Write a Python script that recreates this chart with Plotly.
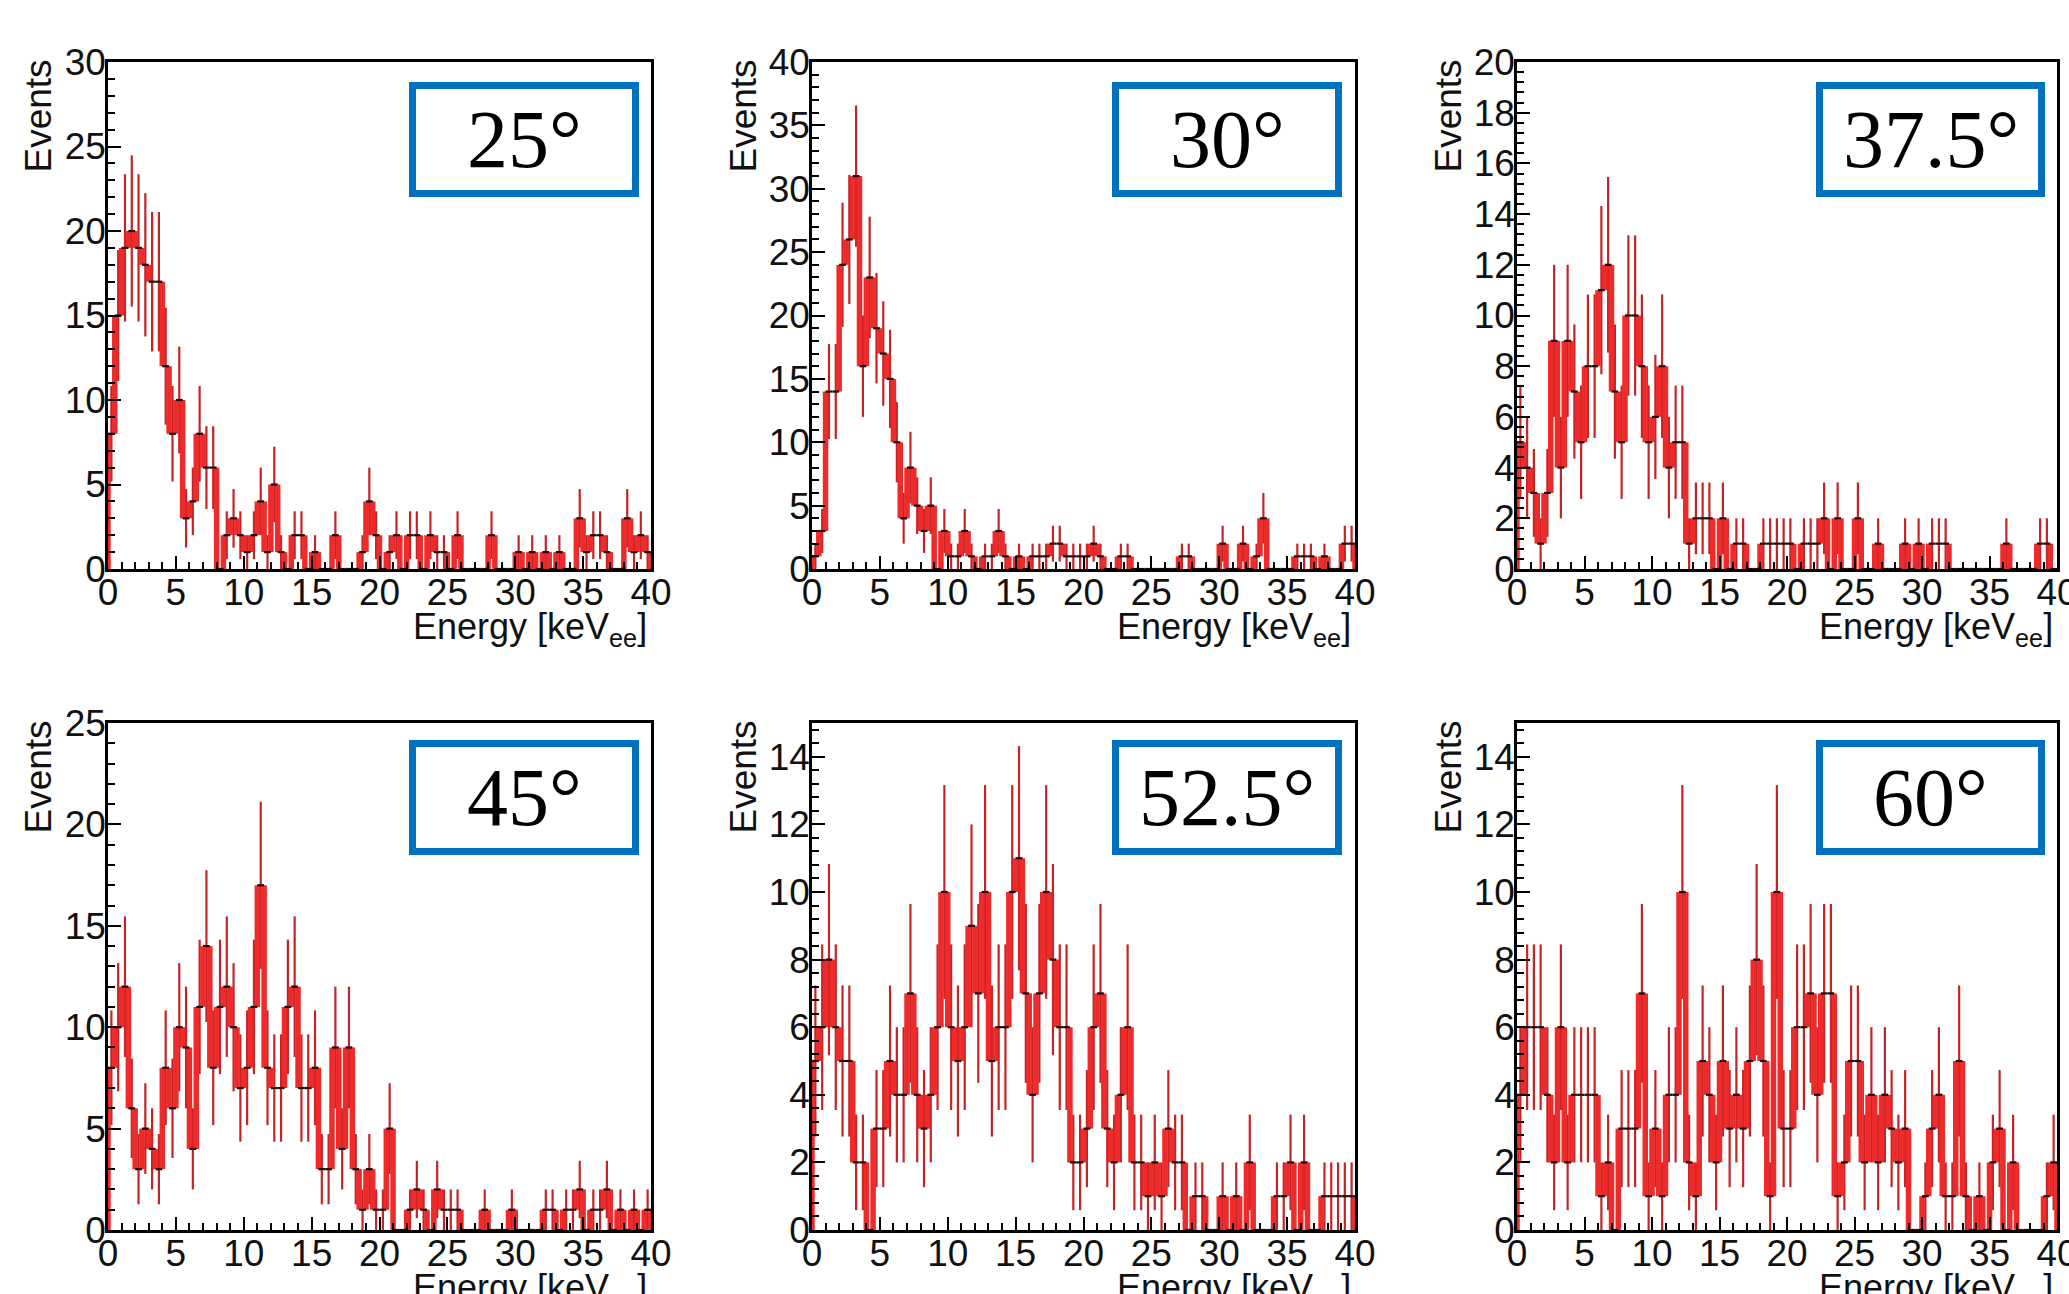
import numpy as np
import plotly.graph_objects as go

# ---------------- data (counts per 0.5 keV bin, 0-40 keV) ----------------
BIN_WIDTH = 0.5
ANGLE_LABELS = ["25°", "30°", "37.5°", "45°", "52.5°", "60°"]

counts_25 = [8, 15, 19, 20, 19, 18, 17, 17, 12, 8,
             10, 3, 4, 8, 6, 6, 0, 2, 3, 2,
             1, 2, 4, 1, 5, 1, 0, 2, 2, 0,
             1, 0, 0, 2, 0, 0, 0, 1, 4, 2,
             0, 1, 2, 0, 2, 2, 0, 2, 1, 1,
             0, 2, 0, 0, 0, 0, 2, 0, 0, 0,
             1, 0, 1, 0, 1, 0, 1, 0, 0, 3,
             1, 2, 2, 1, 0, 0, 3, 1, 2, 1]

counts_30 = [1, 3, 14, 14, 24, 26, 31, 16, 23, 19,
             17, 15, 10, 4, 8, 5, 3, 5, 0, 3,
             1, 1, 3, 1, 0, 1, 1, 3, 1, 0,
             1, 0, 1, 1, 1, 2, 2, 1, 1, 1,
             1, 2, 1, 0, 0, 1, 1, 0, 0, 0,
             0, 0, 0, 0, 1, 1, 0, 0, 0, 0,
             2, 0, 0, 2, 0, 1, 4, 0, 0, 0,
             0, 1, 1, 1, 0, 1, 0, 0, 2, 2]

counts_375 = [5, 4, 3, 1, 3, 9, 4, 9, 7, 5,
              8, 8, 11, 12, 7, 5, 10, 10, 8, 5,
              6, 8, 4, 5, 5, 1, 2, 2, 2, 0,
              2, 0, 1, 1, 0, 0, 1, 1, 1, 1,
              1, 0, 1, 1, 1, 2, 0, 2, 0, 0,
              2, 0, 0, 1, 0, 0, 0, 1, 0, 1,
              0, 1, 1, 1, 0, 0, 0, 0, 0, 0,
              0, 0, 1, 0, 0, 0, 0, 1, 1, 0]

counts_45 = [8, 10, 12, 6, 3, 5, 4, 3, 8, 6,
             10, 9, 4, 11, 14, 8, 11, 12, 10, 7,
             8, 11, 17, 8, 7, 7, 11, 12, 7, 7,
             8, 3, 3, 9, 4, 9, 3, 1, 3, 1,
             1, 5, 0, 0, 1, 2, 1, 0, 2, 1,
             1, 1, 0, 0, 0, 1, 0, 0, 0, 1,
             0, 0, 0, 0, 1, 1, 0, 1, 1, 2,
             0, 1, 1, 2, 0, 1, 0, 1, 0, 1]

counts_525 = [5, 6, 8, 6, 5, 5, 2, 2, 0, 3,
              3, 5, 4, 4, 7, 4, 3, 4, 6, 10,
              6, 5, 6, 9, 7, 10, 5, 6, 6, 10,
              11, 7, 4, 7, 10, 8, 6, 6, 2, 2,
              3, 6, 7, 3, 2, 4, 6, 2, 2, 1,
              2, 1, 3, 2, 2, 0, 1, 1, 0, 0,
              1, 0, 1, 0, 2, 0, 0, 0, 1, 1,
              2, 0, 2, 0, 0, 1, 1, 1, 1, 1]

counts_60 = [4, 6, 6, 6, 4, 2, 6, 2, 4, 4,
             4, 4, 1, 2, 0, 3, 3, 3, 7, 1,
             3, 1, 4, 4, 10, 2, 1, 5, 4, 2,
             5, 3, 4, 3, 5, 8, 5, 1, 10, 3,
             3, 6, 6, 7, 4, 7, 7, 1, 2, 5,
             5, 2, 4, 2, 4, 3, 2, 3, 0, 0,
             1, 3, 4, 1, 1, 5, 1, 0, 1, 0,
             2, 3, 0, 2, 0, 0, 0, 0, 1, 2]

ALL_COUNTS = [counts_25, counts_30, counts_375, counts_45, counts_525, counts_60]
Y_MAX = [30, 40, 20, 25, 15, 15]
Y_DTICK = [5, 5, 2, 5, 2, 2]
Y_MINOR = [1, 1, 0.4, 1, 0.4, 0.4]
X_MAX = 40
X_TICKS = [0, 5, 10, 15, 20, 25, 30, 35, 40]

# ---------------- layout geometry (pixels) ----------------
W, H = 2069, 1294
COL_PX = [(108, 651), (812, 1355), (1517, 2057)]
ROW_PX = [(62, 569), (723, 1230)]
BOX_COL_PX = [(409, 639), (1112, 1342), (1816, 2045)]
BOX_ROW_PX = [(82, 197), (740, 855)]
EVENTS_X_PX = [38, 743, 1448]

RED = "#ee2a2a"
ERR_RED = "#c42426"
BLUE = "#0070C0"
SANS = "Liberation Sans, Arial, sans-serif"
SERIF = "Liberation Serif, Times New Roman, serif"


def px_x(p):
    return p / W


def px_y(p):
    return 1 - p / H


fig = go.Figure()
annotations = []
shapes = []

for k, counts in enumerate(ALL_COUNTS):
    row, col = divmod(k, 3)
    sfx = "" if k == 0 else str(k + 1)
    xa, ya = "x" + sfx, "y" + sfx
    vals = np.array(counts, dtype=float)
    n = len(vals)
    edges = np.arange(n + 1) * BIN_WIDTH
    centers = edges[:-1] + BIN_WIDTH / 2

    # error bars (sqrt N) at bin centres
    fig.add_trace(go.Scatter(
        x=centers, y=vals, mode="markers", xaxis=xa, yaxis=ya,
        marker=dict(size=1, color="rgba(0,0,0,0)"),
        error_y=dict(type="data", array=np.sqrt(vals), color=ERR_RED,
                     thickness=2.2, width=0),
        hoverinfo="skip", showlegend=False))

    # thick red vertical step connectors at bin edges
    prev = np.concatenate([[0.0], vals])
    nxt = np.concatenate([vals, [0.0]])
    vx, vy = [], []
    for e, a, b in zip(edges, prev, nxt):
        vx += [e, e, None]
        vy += [a, b, None]
    fig.add_trace(go.Scatter(
        x=vx, y=vy, mode="lines", xaxis=xa, yaxis=ya,
        line=dict(color=RED, width=5.5), hoverinfo="skip", showlegend=False))

    # black horizontal bin contents
    hx, hy = [], []
    for l, r, v in zip(edges[:-1], edges[1:], vals):
        hx += [l, r, None]
        hy += [v, v, None]
    fig.add_trace(go.Scatter(
        x=hx, y=hy, mode="lines", xaxis=xa, yaxis=ya,
        line=dict(color="#1a0a0a", width=2.2), hoverinfo="skip", showlegend=False))

    x0p, x1p = COL_PX[col]
    y0p, y1p = ROW_PX[row]
    common = dict(showline=True, linecolor="black", linewidth=2.5, mirror=True,
                  ticks="inside", ticklen=13, tickwidth=2, tickcolor="black",
                  showgrid=False, zeroline=False, fixedrange=True, automargin=False,
                  ticklabeloverflow="allow",
                  tickfont=dict(family=SANS, size=37, color="#111"))
    fig.layout["xaxis" + sfx] = dict(
        common, domain=[px_x(x0p), px_x(x1p)], anchor=ya,
        range=[0, X_MAX], tickmode="array", tickvals=X_TICKS,
        ticktext=[str(t) for t in X_TICKS], ticklabelstandoff=-11,
        minor=dict(ticks="inside", ticklen=7, tickwidth=2, tickcolor="black",
                   tick0=0, dtick=1, showgrid=False))
    fig.layout["yaxis" + sfx] = dict(
        common, domain=[px_y(y1p), px_y(y0p)], anchor=xa,
        range=[0, Y_MAX[k]], tick0=0, dtick=Y_DTICK[k], ticklabelstandoff=-8,
        minor=dict(ticks="inside", ticklen=7, tickwidth=2, tickcolor="black",
                   tick0=0, dtick=Y_MINOR[k], showgrid=False))

    # axis titles
    annotations.append(dict(
        text="Events", xref="paper", yref="paper",
        x=px_x(EVENTS_X_PX[col]), y=px_y(y0p - 4), xanchor="center", yanchor="top",
        textangle=-90, showarrow=False, font=dict(family=SANS, size=37, color="#111")))
    annotations.append(dict(
        text="Energy [keV<sub>ee</sub>]", xref="paper", yref="paper",
        x=px_x(x1p - 2), y=px_y(y1p + 60), xanchor="right", yanchor="middle",
        showarrow=False, font=dict(family=SANS, size=36, color="#111")))

    # angle label box
    bx0, bx1 = BOX_COL_PX[col]
    by0, by1 = BOX_ROW_PX[row]
    shapes.append(dict(
        type="rect", xref="paper", yref="paper",
        x0=px_x(bx0 + 3.5), x1=px_x(bx1 - 3.5), y0=px_y(by1 - 3.5), y1=px_y(by0 + 3.5),
        line=dict(color=BLUE, width=7), fillcolor="white"))
    annotations.append(dict(
        text=ANGLE_LABELS[k], xref="paper", yref="paper",
        x=px_x((bx0 + bx1) / 2), y=px_y((by0 + by1) / 2),
        xanchor="center", yanchor="middle", showarrow=False,
        font=dict(family=SERIF, size=82, color="black")))

fig.update_layout(
    width=W, height=H, margin=dict(l=0, r=0, t=0, b=0, pad=0, autoexpand=False),
    paper_bgcolor="white", plot_bgcolor="white", showlegend=False,
    annotations=annotations, shapes=shapes)

fig.write_html("out.html")
